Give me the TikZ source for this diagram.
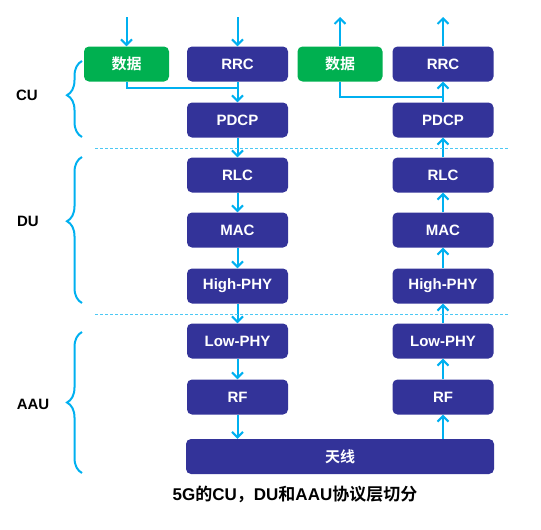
\documentclass[tikz,border=0pt]{standalone}
\usepackage{fontspec}
\setmainfont{Liberation Sans}
\newfontfamily\cjk{Noto Sans CJK SC}[BoldFont={Noto Sans CJK SC Bold}]
\usetikzlibrary{arrows.meta,positioning,decorations.pathreplacing}
\definecolor{layerblue}{RGB}{51,51,153}
\definecolor{datagreen}{RGB}{0,176,80}
\definecolor{linkblue}{RGB}{0,176,240}
\tikzstyle{layer}=[rectangle,rounded corners=5pt,fill=layerblue,text=white,font=\bfseries\fontsize{15}{17}\selectfont,minimum width=101pt,minimum height=35pt,inner sep=0pt]
\tikzstyle{data layer} = [layer, fill=datagreen, minimum width=85pt]
\tikzstyle{link} = [draw=linkblue,line width=2pt,-{Straight Barb[length=5.5pt,width=11pt]}]
\tikzstyle{cut} = [draw=linkblue!70,densely dashed,line width=0.6pt]
\tikzstyle{split brace} = [draw=linkblue,line width=2pt,decorate]
\tikzstyle{unit label} = [font=\bfseries\fontsize{15}{17}\selectfont]

\begin{document}
\begin{tikzpicture}[x=1pt,y=-1pt]
    \useasboundingbox (0,0) rectangle (541,530);
    % Protocol layers, left (down) and right (up)
    \foreach \y/\name/\txt in {64/1/RRC, 120/2/PDCP, 175/3/RLC, 230/4/MAC, 286/5/High-PHY, 341/6/Low-PHY, 397/7/RF}
    {
        \node[layer] (L\name) at (237.5,\y) {\txt};
        \node[layer] (R\name) at (443,\y) {\txt};
    }
    \node[data layer] (dataL) at (126.5,64) {\cjk\bfseries 数据};
    \node[data layer] (dataR) at (340,64) {\cjk\bfseries 数据};
    \node[layer, minimum width=308pt] (ant) at (340,456.5) {\cjk\bfseries 天线};

    % Free ends of the arrows
    \coordinate (inL) at (126.5,17);
    \coordinate (inR) at (237.5,17);
    \coordinate (outL) at (340,17);
    \coordinate (outR) at (443,17);
    \coordinate (joinL) at (237.5,88);
    \coordinate (joinR) at (443,97);

    % Connect the layers
    \path[link] (inL) -- (dataL);
    \path[link] (inR) -- (L1);
    \path[draw=linkblue,line width=2pt] (dataL.south) |- (joinL);
    \foreach \a/\b in {1/2, 2/3, 3/4, 4/5, 5/6, 6/7}
        \path[link] (L\a) -- (L\b);
    \path[link] (L7) -- (L7 |- ant.north);

    \path[link] (dataR) -- (outL);
    \path[link] (R1) -- (outR);
    \path[draw=linkblue,line width=2pt] (dataR.south) |- (joinR);
    \foreach \a/\b in {1/2, 2/3, 3/4, 4/5, 5/6, 6/7}
        \path[link] (R\b) -- (R\a);
    \path[link] (R7 |- ant.north) -- (R7);

    % Split lines
    \coordinate (cut1a) at (95,148);
    \coordinate (cut1b) at (508,148);
    \coordinate (cut2a) at (95,314);
    \coordinate (cut2b) at (508,314);
    \path[cut] (cut1a) -- (cut1b);
    \path[cut] (cut2a) -- (cut2b);

    % Units
    \draw[split brace, decoration={brace,amplitude=15pt,aspect=0.55}] (82,137) -- (82,61);
    \draw[split brace, decoration={brace,amplitude=15pt,aspect=0.56}] (82,303) -- (82,157);
    \draw[split brace, decoration={brace,amplitude=15pt,aspect=0.5}] (82,473) -- (82,332);
    \node[unit label] (CU) at (27,95) {CU};
    \node[unit label] (DU) at (28,221) {DU};
    \node[unit label] (AAU) at (33,404) {AAU};

    \node[font=\bfseries\fontsize{17}{19}\selectfont] (title) at (295,494) {5G{\cjk\bfseries 的}CU{\cjk\bfseries ，}DU{\cjk\bfseries 和}AAU{\cjk\bfseries 协议层切分}};
\end{tikzpicture}
\end{document}
